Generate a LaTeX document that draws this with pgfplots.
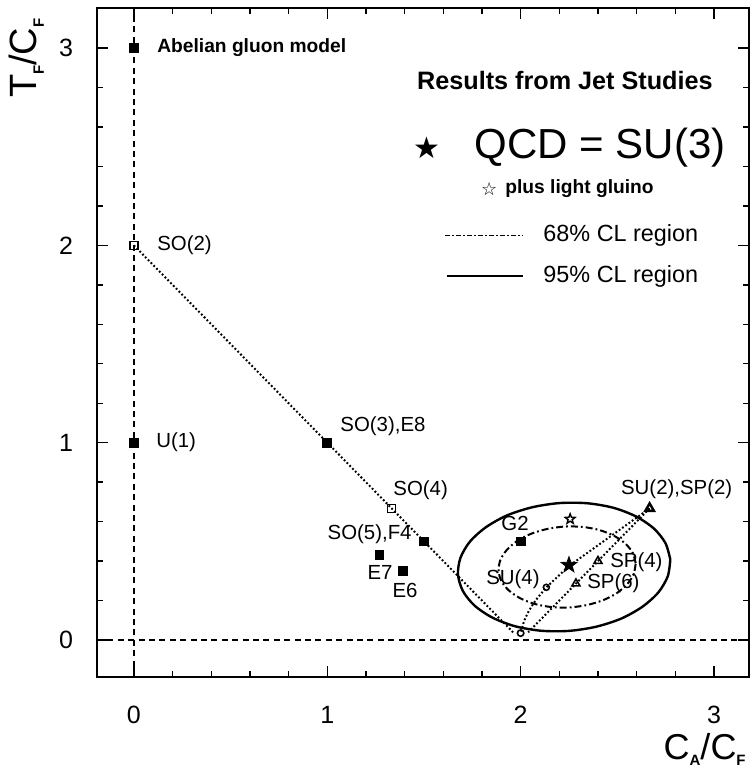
\documentclass[border=0pt]{standalone}
\usepackage{pgfplots}
\pgfplotsset{compat=1.18}
\usepackage{fontspec}
\setmainfont{Liberation Sans}
\newfontfamily\dejavu{DejaVu Sans}

\pgfdeclareplotmark{fstar}{%
 \pgfpathmoveto{\pgfpointpolar{90}{\pgfplotmarksize}}%
 \pgfpathlineto{\pgfpointpolar{126}{0.4\pgfplotmarksize}}%
 \pgfpathlineto{\pgfpointpolar{162}{\pgfplotmarksize}}%
 \pgfpathlineto{\pgfpointpolar{198}{0.4\pgfplotmarksize}}%
 \pgfpathlineto{\pgfpointpolar{234}{\pgfplotmarksize}}%
 \pgfpathlineto{\pgfpointpolar{270}{0.4\pgfplotmarksize}}%
 \pgfpathlineto{\pgfpointpolar{306}{\pgfplotmarksize}}%
 \pgfpathlineto{\pgfpointpolar{342}{0.4\pgfplotmarksize}}%
 \pgfpathlineto{\pgfpointpolar{18}{\pgfplotmarksize}}%
 \pgfpathlineto{\pgfpointpolar{54}{0.4\pgfplotmarksize}}%
 \pgfpathclose
 \pgfusepathqfillstroke}
\pgfdeclareplotmark{ostar}{%
 \pgfpathmoveto{\pgfpointpolar{90}{\pgfplotmarksize}}%
 \pgfpathlineto{\pgfpointpolar{126}{0.42\pgfplotmarksize}}%
 \pgfpathlineto{\pgfpointpolar{162}{\pgfplotmarksize}}%
 \pgfpathlineto{\pgfpointpolar{198}{0.42\pgfplotmarksize}}%
 \pgfpathlineto{\pgfpointpolar{234}{\pgfplotmarksize}}%
 \pgfpathlineto{\pgfpointpolar{270}{0.42\pgfplotmarksize}}%
 \pgfpathlineto{\pgfpointpolar{306}{\pgfplotmarksize}}%
 \pgfpathlineto{\pgfpointpolar{342}{0.42\pgfplotmarksize}}%
 \pgfpathlineto{\pgfpointpolar{18}{\pgfplotmarksize}}%
 \pgfpathlineto{\pgfpointpolar{54}{0.42\pgfplotmarksize}}%
 \pgfpathclose
 \pgfusepathqstroke}

\tikzset{
  dotl/.style={black, line width=1pt, dash pattern=on 0.9pt off 1.1pt},
  dashl/.style={black, line width=0.7pt, dash pattern=on 3pt off 2.2pt},
  dashdot/.style={black, line width=1pt, dash pattern=on 3.5pt off 1.5pt on 0.9pt off 1.5pt},
  lab/.style={font=\fontsize{10.2}{10}\selectfont, inner sep=0pt},
  blab/.style={font=\fontsize{9.6}{10}\selectfont\bfseries, inner sep=0pt},
}

\begin{document}
\begin{tikzpicture}
\begin{axis}[
  scale only axis,
  width=326pt, height=334.5pt,
  xmin=-0.191, xmax=3.181,
  ymin=-0.1875, ymax=3.203,
  xtick={0,1,2,3}, ytick={0,1,2,3},
  minor tick num=4,
  major tick length=5.5pt, minor tick length=3pt,
  tick style={black, line width=0.7pt},
  axis line style={line width=1.1pt},
  tick align=inside,
  clip=false,
  /pgf/number format/assume math mode=true,
  ticklabel style={font=\fontsize{12.5}{12.5}\selectfont},
  xticklabel style={yshift=-11pt},
  yticklabel style={xshift=-8.5pt},
  xlabel={\fontsize{18}{18}\selectfont C\raisebox{-0.18em}{\fontsize{7.5}{7.5}\selectfont\bfseries A}/C\raisebox{-0.18em}{\fontsize{7.5}{7.5}\selectfont\bfseries F}},
  ylabel={\fontsize{19}{19}\selectfont T\raisebox{-0.18em}{\fontsize{7.5}{7.5}\selectfont\bfseries F}/C\raisebox{-0.18em}{\fontsize{7.5}{7.5}\selectfont\bfseries F}},
  xlabel style={at={(rel axis cs:0.932,-0.108)}, anchor=center},
  ylabel style={at={(rel axis cs:-0.108,0.925)}, anchor=center, rotate=0},
]
% reference dashed axes
\addplot[dashl] coordinates {(0,-0.1875) (0,3.203)};
\addplot[dashl] coordinates {(-0.191,0) (3.181,0)};

% SO(N) line
\addplot[dotl] coordinates {(0,2) (1,1) (1.333,0.667) (1.5,0.5) (1.965,0.035)};
% SU(N) line
\addplot[dotl] coordinates {(2.667,0.667) (2.25,0.375) (2.133,0.267) (2.083,0.208) (2.057,0.171) (2.042,0.146) (2.032,0.127) (2.020,0.101) (2.014,0.084) (2.008,0.063) (2.005,0.050) (2.003,0.040)};
% SP(N) line
\addplot[dotl] coordinates {(2.667,0.667) (2.4,0.4) (2.286,0.286) (2.222,0.222) (2.182,0.182) (2.154,0.154) (2.118,0.118) (2.095,0.095) (2.065,0.065) (2.049,0.049) (2.039,0.039)};

% 95% CL ellipse
\addplot[black, line width=1.2pt, smooth] coordinates {
(2.774,0.408) (2.749,0.491) (2.689,0.565) (2.597,0.626) (2.480,0.670) (2.345,0.693)
(2.202,0.694) (2.061,0.673) (1.931,0.632) (1.821,0.572) (1.738,0.499) (1.689,0.417)
(1.676,0.332) (1.701,0.249) (1.761,0.175) (1.853,0.114) (1.970,0.070) (2.105,0.047)
(2.248,0.046) (2.389,0.067) (2.519,0.108) (2.629,0.168) (2.712,0.241) (2.761,0.323)
(2.774,0.408)};
% 68% CL ellipse
\addplot[dashdot, smooth] coordinates {
(2.595,0.389) (2.580,0.441) (2.542,0.488) (2.483,0.528) (2.408,0.557) (2.321,0.573)
(2.229,0.575) (2.138,0.563) (2.053,0.538) (1.982,0.502) (1.928,0.456) (1.895,0.405)
(1.886,0.351) (1.900,0.299) (1.938,0.252) (1.997,0.212) (2.072,0.183) (2.159,0.167)
(2.251,0.165) (2.342,0.177) (2.427,0.202) (2.498,0.238) (2.552,0.284) (2.585,0.335)
(2.595,0.389)};

% filled squares
\addplot[only marks, mark=square*, mark size=2.2pt, black] coordinates {
(0,3) (0,1) (1,1) (1.5,0.5) (1.27,0.43) (1.39,0.35) (2,0.5)};
% open squares
\addplot[only marks, mark=square, mark size=2pt, black, mark options={line width=0.8pt}] coordinates {
(0,2) (1.333,0.667)};
\addplot[only marks, mark=o, mark size=1.6pt, black, mark options={line width=0.8pt}] coordinates {(2.0,0.035)};
% open circle SU(4)
\addplot[only marks, mark=o, mark size=1.5pt, black, mark options={line width=0.8pt}] coordinates {(2.133,0.267)};
% triangles SP
\addplot[only marks, mark=triangle, mark size=2.3pt, black, mark options={line width=0.8pt}] coordinates {
(2.4,0.4) (2.286,0.286)};
\addplot[only marks, mark=triangle, mark size=2.5pt, black, mark options={line width=1.2pt}] coordinates {(2.667,0.667)};
% QCD star
\addplot[only marks, mark=fstar, mark size=4.2pt, black] coordinates {(2.25,0.38)};
% light gluino star
\addplot[only marks, mark=ostar, mark size=2.6pt, black, mark options={line width=0.7pt}] coordinates {(2.256,0.613)};

% point labels
\node[blab, anchor=west] at (axis cs:0.119,3.0) {Abelian gluon model};
\node[lab, anchor=west] at (axis cs:0.119,2.0) {SO(2)};
\node[lab, anchor=west] at (axis cs:0.114,1.0) {U(1)};
\node[lab, anchor=west] at (axis cs:1.066,1.085) {SO(3),E8};
\node[lab, anchor=west] at (axis cs:1.340,0.760) {SO(4)};
\node[lab, anchor=east] at (axis cs:1.438,0.537) {SO(5),F4};
\node[lab] at (axis cs:1.273,0.340) {E7};
\node[lab] at (axis cs:1.402,0.253) {E6};
\node[lab] at (axis cs:1.971,0.593) {G2};
\node[lab, anchor=east] at (axis cs:2.100,0.309) {SU(4)};
\node[lab, anchor=west] at (axis cs:2.462,0.395) {SP(4)};
\node[lab, anchor=west] at (axis cs:2.343,0.289) {SP(6)};
\node[lab] at (axis cs:2.807,0.765) {SU(2),SP(2)};

% legend block
\node[font=\fontsize{12.6}{13}\selectfont\bfseries, inner sep=0pt] at (axis cs:2.229,2.838) {Results from Jet Studies};
\node[font=\fontsize{15}{15}\selectfont\dejavu, inner sep=0pt] at (axis cs:1.516,2.494) {★};
\node[font=\fontsize{21}{21}\selectfont, inner sep=0pt] at (axis cs:2.411,2.494) {QCD = SU(3)};
\node[font=\fontsize{9}{9}\selectfont\dejavu, inner sep=0pt] at (axis cs:1.837,2.286) {☆};
\node[font=\fontsize{9.6}{10}\selectfont\bfseries, inner sep=0pt, anchor=west] at (axis cs:1.919,2.286) {plus light gluino};
\draw[black, line width=0.6pt, dash pattern=on 2.5pt off 1.2pt on 0.6pt off 1.2pt] (axis cs:1.609,2.048) -- (axis cs:2.012,2.048);
\node[font=\fontsize{11.7}{12}\selectfont, inner sep=0pt, anchor=west] at (axis cs:2.116,2.048) {68\% CL region};
\draw[black, line width=0.8pt] (axis cs:1.619,1.845) -- (axis cs:2.012,1.845);
\node[font=\fontsize{11.7}{12}\selectfont, inner sep=0pt, anchor=west] at (axis cs:2.116,1.845) {95\% CL region};

\coordinate (SW) at (rel axis cs:0,0);
\coordinate (NE) at (rel axis cs:1,1);
\end{axis}
\pgfresetboundingbox
\path[use as bounding box] ([shift={(-48.5pt,-45.5pt)}]SW) rectangle ([shift={(1.5pt,4pt)}]NE);
\end{tikzpicture}
\end{document}
